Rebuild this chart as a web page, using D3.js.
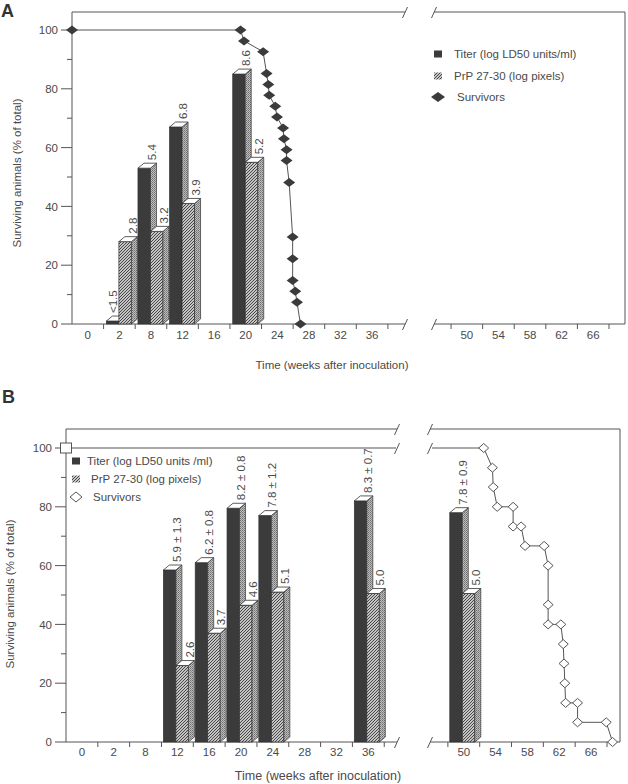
<!DOCTYPE html>
<html><head><meta charset="utf-8">
<script src="https://cdn.jsdelivr.net/npm/d3@7"></script>
<style>body{margin:0;background:#fff}svg{display:block}text{font-family:"Liberation Sans",Arial,sans-serif;fill:#4a4a4a}</style>
</head><body><svg id="c" width="628" height="784"></svg>
<script>
// ---- data ----
const categories = ["0","2","8","12","16","20","24","28","32","36","40","44","50","54","58","62","66"];
const hiddenCategories = ["40","44"];
const yTicks = [0,20,40,60,80,100];
const yMinorTicks = [10,30,50,70,90];

// Panel A
const barWeeksA = ["2","8","12","20"];
const titerA = [1, 53, 67, 85];
const prpA = [28, 31.5, 41, 55];
const titerLabelsA = ["<1.5","5.4","6.8","8.6"];
const prpLabelsA = ["2.8","3.2","3.9","5.2"];
const survWeeksA = [0, 19.4, 19.8, 22.0, 22.4, 22.6, 22.7, 23.4, 23.6, 24.3, 24.4, 24.7, 24.7, 25.0, 25.4, 25.4, 25.4, 25.7, 25.9, 26.3];
const survPctA = [100, 100, 96.3, 92.6, 85.2, 81.5, 77.8, 74.1, 70.4, 66.7, 63.0, 59.3, 55.6, 48.1, 29.6, 22.2, 14.8, 11.1, 7.4, 0];

// Panel B
const barWeeksB = ["12","16","20","24","36","50"];
const titerB = [58.5, 61, 79.5, 77, 82, 78];
const prpB = [26, 37, 46.5, 51, 50.5, 50.5];
const titerLabelsB = ["5.9 ± 1.3","6.2 ± 0.8","8.2 ± 0.8","7.8 ± 1.2","8.3 ± 0.7","7.8 ± 0.9"];
const prpLabelsB = ["2.6","3.7","4.6","5.1","5.0","5.0"];
const survWeeksB = [0, 52.5, 53.6, 53.7, 54.2, 56.2, 56.2, 57.2, 57.7, 60.1, 60.6, 60.6, 60.6, 62.2, 62.5, 62.6, 62.7, 62.8, 64.3, 64.3, 67.9, 68.7];
const survPctB = [100, 100, 93.3, 86.7, 80, 80, 73.3, 73.3, 66.7, 66.7, 60, 46.7, 40, 40, 33.3, 26.7, 20, 13.3, 13.3, 6.7, 6.7, 0];

const legendLabelsA = ["Titer (log LD50 units/ml)","PrP 27-30 (log pixels)","Survivors"];
const legendLabelsB = ["Titer (log LD50 units /ml)","PrP 27-30 (log pixels)","Survivors"];
const yTitle = "Surviving animals (% of total)";
const xTitle = "Time (weeks after inoculation)";

// ---- drawing ----
const svg = d3.select("#c");
const LINE = "#555", DARK = "#3b3b3b";
const defs = svg.append("defs");
const hp = defs.append("pattern").attr("id","hatch").attr("patternUnits","userSpaceOnUse").attr("width",3).attr("height",3);
hp.append("rect").attr("width",3).attr("height",3).attr("fill","#c4c4c4");
hp.append("path").attr("d","M-1,1 l2,-2 M0,3 l3,-3 M2,4 l2,-2").attr("stroke","#3a3a3a").attr("stroke-width",0.9);
const sp = defs.append("pattern").attr("id","stip").attr("patternUnits","userSpaceOnUse").attr("width",2).attr("height",2);
sp.append("rect").attr("width",2).attr("height",2).attr("fill","#bdbdbd");
sp.append("rect").attr("width",1).attr("height",1).attr("fill","#6e6e6e");
sp.append("rect").attr("x",1).attr("y",1).attr("width",1).attr("height",1).attr("fill","#8a8a8a");

function panel(o){
  const g = svg.append("g");
  const x = d3.scaleBand().domain(categories).range([o.left, o.bandEnd]).padding(0);
  const bw = x.bandwidth();
  const y = d3.scaleLinear().domain([0,100]).range([o.bottom, o.y100]);
  const xs = d3.scaleLinear().domain([0, o.survRefWeek]).range([o.left, x(String(o.survRefWeek)) + bw/2]);
  const line = (x1,y1,x2,y2)=>g.append("line").attr("x1",x1).attr("y1",y1).attr("x2",x2).attr("y2",y2).attr("stroke",LINE).attr("stroke-width",1);
  const slash = (cx,cy)=>line(cx-2.5,cy+6,cx+2.5,cy-5);

  // frame
  line(o.left, o.top, o.left, o.bottom);
  line(o.left, o.top, o.gapL, o.top); line(o.gapR, o.top, o.right, o.top);
  slash(o.gapL, o.top); slash(o.gapR, o.top);
  line(o.right, o.top, o.right, o.bottom);
  line(o.left, o.bottom, o.gapL, o.bottom); line(o.gapR, o.bottom, o.right, o.bottom);
  slash(o.gapL, o.bottom); slash(o.gapR, o.bottom);

  // y ticks
  yTicks.forEach(t=>{ line(o.left-11, y(t), o.left, y(t));
    g.append("text").attr("x", o.left-14).attr("y", y(t)).attr("dy","0.36em").attr("text-anchor","end").attr("font-size",o.fs).text(t); });
  yMinorTicks.forEach(t=> line(o.left-5, y(t), o.left, y(t)));
  // x ticks at band boundaries
  categories.forEach((c,i)=>{ const xb = x(c);
    if (i>0 && (xb < o.gapL || xb > o.gapR)) line(xb, o.bottom, xb, o.bottom+5); });
  line(x.range()[1], o.bottom, x.range()[1], o.bottom+5);
  categories.filter(c=>!hiddenCategories.includes(c)).forEach(c=>{
    g.append("text").attr("x", x(c)+bw/2).attr("y", o.xLabelY).attr("text-anchor","middle").attr("font-size",o.fs).text(c); });

  // titles
  g.append("text").attr("transform",`translate(${o.yTitleX},${o.yTitleY}) rotate(-90)`).attr("text-anchor","middle").attr("dy","0.35em").attr("font-size",o.fs).text(yTitle);
  g.append("text").attr("x",o.xTitleX).attr("y",o.xTitleY).attr("text-anchor","middle").attr("font-size",o.titleFs).text(xTitle);
  g.append("text").attr("x",o.letterX).attr("y",o.letterY).attr("font-size",18).attr("font-weight","bold").style("fill","#333").text(o.letter);

  // survivors line (clipped at axis break)
  const cid = "clip"+o.letter;
  const cp = defs.append("clipPath").attr("id",cid);
  cp.append("rect").attr("x",0).attr("y",0).attr("width",o.gapL-1).attr("height",784);
  cp.append("rect").attr("x",o.gapR+2).attr("y",0).attr("width",628).attr("height",784);
  const pts = o.survW.map((w,i)=>[xs(w), y(o.survP[i])]);
  g.append("path").attr("d", d3.line()(pts)).attr("fill","none").attr("stroke",LINE).attr("stroke-width",1).attr("clip-path",`url(#${cid})`);
  if (o.survY100Break){ slash(o.gapL, y(100)); slash(o.gapR, y(100)); }

  // bars
  const w = 12.5, dx = 6, dy = 5;
  function bar(x0, v, frontFill){
    const yt = y(v), yb = y(0);
    g.append("rect").attr("x",x0).attr("y",yt).attr("width",w).attr("height",yb-yt).attr("fill",frontFill).attr("stroke","#333").attr("stroke-width",0.7);
    g.append("path").attr("d",`M${x0+w},${yt}L${x0+w+dx},${yt-dy}L${x0+w+dx},${yb-dy}L${x0+w},${yb}Z`).attr("fill","url(#stip)").attr("stroke","#333").attr("stroke-width",0.7);
    g.append("path").attr("d",`M${x0},${yt}L${x0+w},${yt}L${x0+w+dx},${yt-dy}L${x0+dx},${yt-dy}Z`).attr("fill","#fff").attr("stroke","#333").attr("stroke-width",0.8);
  }
  const labels = [];
  o.weeks.forEach((wk,i)=>{
    const c = x(wk)+bw/2;
    const tx = c + o.titerOff, px = tx + w;
    bar(tx, o.titer[i], DARK);
    bar(px, o.prp[i], "url(#hatch)");
    const tlx = o.prp[i] > o.titer[i] ? tx + w/2 : tx + w + 1;
    labels.push([tlx, y(o.titer[i]) - dy - 3, o.titerLab[i]]);
    labels.push([px + w + 1, y(o.prp[i]) - dy - 3, o.prpLab[i]]);
  });
  labels.forEach(([lx,ly,t])=> g.append("text").attr("transform",`translate(${lx},${ly}) rotate(-90)`).attr("dy","0.36em").attr("font-size",o.fs).text(t));

  // survivors markers
  pts.forEach((p,i)=>{
    if (o.openMarkers){
      if (i===0) g.append("rect").attr("x",p[0]-5.5).attr("y",p[1]-5).attr("width",11).attr("height",10).attr("fill","#fff").attr("stroke",LINE);
      else g.append("path").attr("d",`M${p[0]-5},${p[1]}L${p[0]},${p[1]-4.5}L${p[0]+5},${p[1]}L${p[0]},${p[1]+4.5}Z`).attr("fill","#fff").attr("stroke",LINE).attr("stroke-width",1);
    } else {
      g.append("path").attr("d",`M${p[0]-6},${p[1]}L${p[0]},${p[1]-4.5}L${p[0]+6},${p[1]}L${p[0]},${p[1]+4.5}Z`).attr("fill",DARK);
    }
  });

  // legend
  const L = o.legend;
  L.rows.forEach((ry,i)=>{
    if (i===0) g.append("rect").attr("x",L.mx-4).attr("y",ry-3.5).attr("width",8).attr("height",7).attr("fill",DARK);
    if (i===1) g.append("rect").attr("x",L.mx-4).attr("y",ry-3.5).attr("width",8).attr("height",7).attr("fill","url(#hatch)");
    if (i===2){
      if (o.openMarkers) g.append("path").attr("d",`M${L.mx-6},${ry}L${L.mx},${ry-5}L${L.mx+6},${ry}L${L.mx},${ry+5}Z`).attr("fill","#fff").attr("stroke",LINE);
      else g.append("path").attr("d",`M${L.mx-7},${ry}L${L.mx},${ry-5}L${L.mx+7},${ry}L${L.mx},${ry+5}Z`).attr("fill",DARK);
    }
    g.append("text").attr("x",L.tx[i]).attr("y",ry).attr("dy","0.36em").attr("font-size",o.fs).text(o.legendLabels[i]);
  });
}

panel({letter:"A", letterX:1, letterY:17, left:72, bandEnd:609, right:625, top:12, bottom:324, y100:30,
  gapL:405, gapR:434, fs:11.5, titleFs:11.5, xLabelY:339, yTitleX:17, yTitleY:173, xTitleX:332, xTitleY:369,
  survRefWeek:20, survW:survWeeksA, survP:survPctA, openMarkers:false, survY100Break:false,
  weeks:barWeeksA, titer:titerA, prp:prpA, titerLab:titerLabelsA, prpLab:prpLabelsA, titerOff:-13,
  legend:{mx:438, rows:[54,76,97], tx:[454,454,457]}, legendLabels:legendLabelsA});

panel({letter:"B", letterX:2, letterY:403, left:66, bandEnd:607, right:620, top:429, bottom:742, y100:448,
  gapL:397, gapR:430, fs:11.5, titleFs:12.5, xLabelY:756, yTitleX:10, yTitleY:594, xTitleX:318, xTitleY:780,
  survRefWeek:50, survW:survWeeksB, survP:survPctB, openMarkers:true, survY100Break:true,
  weeks:barWeeksB, titer:titerB, prp:prpB, titerLab:titerLabelsB, prpLab:prpLabelsB, titerOff:-14,
  legend:{mx:76, rows:[461,479,497], tx:[87,91,93]}, legendLabels:legendLabelsB});
</script></body></html>
